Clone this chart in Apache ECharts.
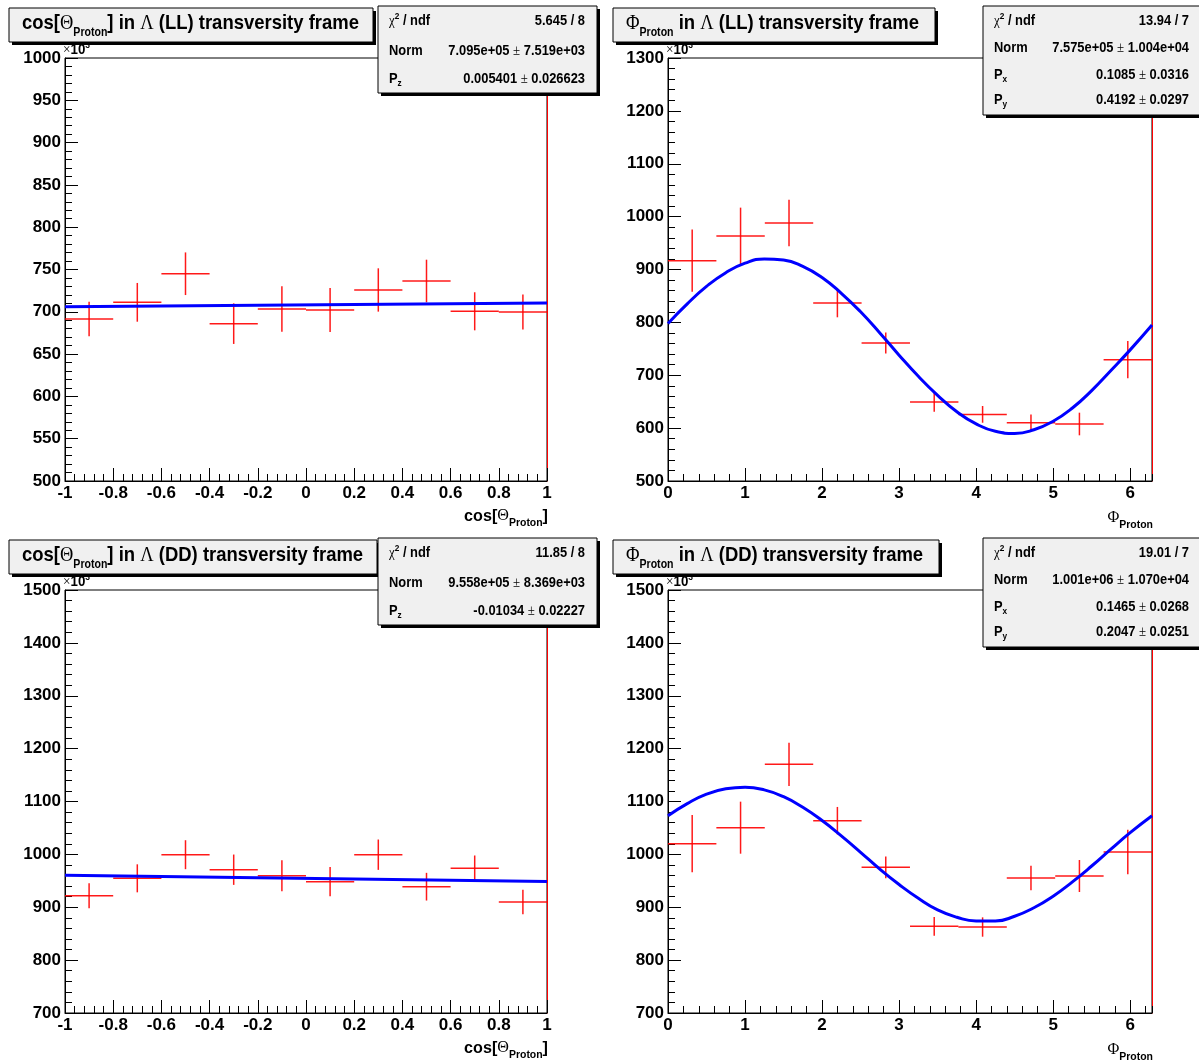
<!DOCTYPE html>
<html>
<head>
<meta charset="utf-8">
<script src="https://cdn.jsdelivr.net/npm/echarts@6/dist/echarts.min.js"></script>
<style>
html,body{margin:0;padding:0;background:#fff;}
#chart{width:1199px;height:1061px;}
</style>
</head>
<body>
<div id="chart"></div>
<script>
// ---------------- DATA ----------------
const cosBinCenters = [-0.9, -0.7, -0.5, -0.3, -0.1, 0.1, 0.3, 0.5, 0.7, 0.9];
const cosBinWidth = 0.2;
const phiBinCenters = [0.314, 0.942, 1.571, 2.199, 2.827, 3.456, 4.084, 4.712, 5.341, 5.969];
const phiBinWidth = 0.6283;

// cos(Theta) LL
const llCosValues = [691.5, 711.2, 745.0, 686.0, 703.3, 702.0, 725.8, 736.4, 700.6, 699.8];
const llCosErrors = [20.3, 22.9, 25.2, 24.0, 26.8, 26.0, 25.6, 25.2, 22.5, 20.7];
const llCosFitX = [-1, 1];
const llCosFitY = [706.0, 710.5];

// Phi LL
const llPhiValues = [916.7, 963.4, 988.0, 836.6, 761.0, 649.4, 626.0, 610.3, 607.8, 729.5];
const llPhiErrors = [59.0, 53.6, 44.0, 27.0, 20.0, 18.3, 15.8, 15.4, 21.4, 35.3];
const phiFitX = [0, 0.25, 0.5, 0.75, 1, 1.25, 1.5, 1.75, 2, 2.25, 2.5, 2.75, 3, 3.25, 3.5, 3.75, 4, 4.25, 4.5, 4.75, 5, 5.25, 5.5, 5.75, 6, 6.2832];
const llPhiFitY = [798, 835, 868, 894, 912, 920, 918, 906, 885, 855, 820, 780, 738, 698, 662, 631, 608, 594, 590, 597, 613, 638, 671, 709, 748, 795];

// cos(Theta) DD
const ddCosValues = [921.8, 954.7, 999.4, 971.0, 959.7, 948.3, 999.4, 938.9, 973.6, 909.9];
const ddCosErrors = [23.6, 26.5, 27.4, 28.7, 29.3, 27.7, 28.7, 26.2, 24.3, 23.0];
const ddCosFitX = [-1, 1];
const ddCosFitY = [960.5, 948.5];

// Phi DD
const ddPhiValues = [1020.2, 1050.5, 1170.3, 1063.7, 975.5, 864.0, 862.6, 955.3, 959.1, 1004.5];
const ddPhiErrors = [54.2, 49.2, 41.0, 26.0, 20.5, 17.7, 18.3, 23.3, 30.3, 41.9];
const ddPhiFitY = [1073, 1096, 1114, 1124, 1127, 1122, 1109, 1089, 1064, 1035, 1004, 972, 943, 917, 895, 881, 874, 874, 883, 899, 921, 948, 978, 1010, 1041, 1073];

// Axis ranges / ticks
const cosXRange = [-1, 1];
const phiXRange = [0, 6.2832];
const llCosYRange = [500, 1000];
const llPhiYRange = [500, 1300];
const ddYRange = [700, 1500];

// Stats-box texts
const llCosStats = [['chi', '5.645 / 8'], ['Norm', '7.095e+05|7.519e+03'], ['Pz', '0.005401|0.026623']];
const llPhiStats = [['chi', '13.94 / 7'], ['Norm', '7.575e+05|1.004e+04'], ['Px', '0.1085|0.0316'], ['Py', '0.4192|0.0297']];
const ddCosStats = [['chi', '11.85 / 8'], ['Norm', '9.558e+05|8.369e+03'], ['Pz', '-0.01034|0.02227']];
const ddPhiStats = [['chi', '19.01 / 7'], ['Norm', '1.001e+06|1.070e+04'], ['Px', '0.1465|0.0268'], ['Py', '0.2047|0.0251']];

// ---------------- STYLE / LAYOUT ----------------
const FONT = "'Liberation Sans', Arial, Helvetica, sans-serif";
const GREEK = "'Liberation Serif', 'DejaVu Serif', serif";
const grids = [
  {left: 65, top: 58, width: 482, height: 423},
  {left: 668, top: 58, width: 484, height: 423},
  {left: 65, top: 590, width: 482, height: 423},
  {left: 668, top: 590, width: 484, height: 423}
];

const chart = echarts.init(document.getElementById('chart'), null, {renderer: 'canvas'});

function fmtLabel(v) {
  if (Math.abs(v - Math.round(v * 10) / 10) > 1e-6) return '';
  return (Math.round(v * 10) / 10).toString();
}

function mainX(gi, range, interval, minorSplit) {
  return {
    type: 'value', gridIndex: gi, min: range[0], max: range[1], interval: interval,
    position: 'bottom',
    axisLine: {show: true, onZero: false, lineStyle: {color: '#000', width: 1}},
    axisTick: {show: true, inside: true, length: 13, lineStyle: {color: '#000', width: 1}},
    minorTick: {show: !!minorSplit, splitNumber: minorSplit || 5, length: 7, lineStyle: {color: '#000', width: 1}},
    splitLine: {show: false},
    axisLabel: {show: true, margin: 4, color: '#000', fontFamily: FONT, fontWeight: 'bold', fontSize: 17,
      showMaxLabel: range[1] === 1, showMinLabel: true,
      formatter: function (v) { return fmtLabel(v); }}
  };
}
function minorX(gi, range, interval) {
  return {
    type: 'value', gridIndex: gi, min: range[0], max: range[1], interval: interval,
    position: 'bottom',
    axisLine: {show: false, onZero: false},
    axisTick: {show: true, inside: true, length: 7, lineStyle: {color: '#000', width: 1}},
    splitLine: {show: false},
    axisLabel: {show: false}
  };
}
function mainY(gi, range, interval) {
  return {
    type: 'value', gridIndex: gi, min: range[0], max: range[1], interval: interval,
    position: 'left',
    axisLine: {show: true, onZero: false, lineStyle: {color: '#000', width: 1}},
    axisTick: {show: true, inside: true, length: 13, lineStyle: {color: '#000', width: 1}},
    minorTick: {show: true, splitNumber: 5, length: 7, lineStyle: {color: '#000', width: 1}},
    splitLine: {show: false},
    axisLabel: {show: true, margin: 4, color: '#000', fontFamily: FONT, fontWeight: 'bold', fontSize: 17,
      formatter: function (v) { return String(Math.round(v)); }}
  };
}
function redRightY(gi, range) {
  return {
    type: 'value', gridIndex: gi, min: range[0], max: range[1], position: 'right',
    axisLine: {show: true, onZero: false, lineStyle: {color: '#ff0000', width: 1}},
    axisTick: {show: false}, axisLabel: {show: false}, splitLine: {show: false}
  };
}

function crossSeries(ax, centers, vals, errs, binW) {
  const halfW = binW / 2;
  return {
    type: 'custom', xAxisIndex: ax, yAxisIndex: ax, z: 3,
    data: centers.map((c, i) => [c, vals[i], errs[i]]),
    encode: {x: 0, y: 1},
    renderItem: function (params, api) {
      const x = api.value(0), y = api.value(1), e = api.value(2);
      const l = api.coord([x - halfW, y]), r = api.coord([x + halfW, y]);
      const t = api.coord([x, y + e]), b = api.coord([x, y - e]);
      const st = {stroke: '#ff0000', lineWidth: 1.5, opacity: 0.9};
      return {type: 'group', children: [
        {type: 'line', shape: {x1: l[0], y1: l[1], x2: r[0], y2: r[1]}, style: st},
        {type: 'line', shape: {x1: t[0], y1: t[1], x2: b[0], y2: b[1]}, style: st}
      ]};
    }
  };
}
function fitSeries(ax, xs, ys) {
  return {
    type: 'line', xAxisIndex: ax, yAxisIndex: ax, z: 4,
    data: xs.map((x, i) => [x, ys[i]]),
    smooth: true, showSymbol: false, symbol: 'none',
    lineStyle: {color: '#0000ff', width: 3}, itemStyle: {color: '#0000ff'},
    silent: true, animation: false
  };
}

// ---------- graphic helpers ----------
const RICH = {
  b: {fontFamily: FONT, fontWeight: 'bold', fontSize: 14, fill: '#000', color: '#000', lineHeight: 16},
  g: {fontFamily: GREEK, fontWeight: 'normal', fontSize: 14, fill: '#000', color: '#000', lineHeight: 16},
  sup: {fontFamily: FONT, fontWeight: 'bold', fontSize: 9, fill: '#000', color: '#000', lineHeight: 10, padding: [0, 0, 9, 0]},
  sub: {fontFamily: FONT, fontWeight: 'bold', fontSize: 9, fill: '#000', color: '#000', lineHeight: 10, padding: [9, 0, 0, 0]},
  T: {fontFamily: FONT, fontWeight: 'bold', fontSize: 21, fill: '#000', color: '#000', lineHeight: 24},
  TG: {fontFamily: GREEK, fontWeight: 'normal', fontSize: 21, fill: '#000', color: '#000', lineHeight: 24},
  TS: {fontFamily: FONT, fontWeight: 'bold', fontSize: 12, fill: '#000', color: '#000', lineHeight: 14, padding: [20, 0, 0, 0]},
  A: {fontFamily: FONT, fontWeight: 'bold', fontSize: 17, fill: '#000', color: '#000', lineHeight: 20},
  AG: {fontFamily: GREEK, fontWeight: 'normal', fontSize: 17, fill: '#000', color: '#000', lineHeight: 20},
  AS: {fontFamily: FONT, fontWeight: 'bold', fontSize: 11, fill: '#000', color: '#000', lineHeight: 12, padding: [14, 0, 0, 0]},
  X: {fontFamily: FONT, fontWeight: 'bold', fontSize: 14, fill: '#000', color: '#000', lineHeight: 16},
  XG: {fontFamily: GREEK, fontWeight: 'normal', fontSize: 14, fill: '#000', color: '#000', lineHeight: 16},
  XS: {fontFamily: FONT, fontWeight: 'bold', fontSize: 9, fill: '#000', color: '#000', lineHeight: 10, padding: [0, 0, 8, 0]}
};
function txt(x, y, text, align, vAlign, sx) {
  return {
    type: 'text', x: x, y: y, scaleX: sx || 1, z: 102, zlevel: 0, silent: true,
    style: {x: 0, y: 0, text: text, rich: RICH, align: align, textAlign: align,
      verticalAlign: vAlign, textVerticalAlign: vAlign, fill: '#000',
      fontFamily: FONT, fontWeight: 'bold', fontSize: 14}
  };
}
function boxWithShadow(x, y, w, h) {
  return [
    {type: 'rect', z: 100, silent: true, shape: {x: x + 3, y: y + 3, width: w, height: h}, style: {fill: '#000', stroke: null}},
    {type: 'rect', z: 101, silent: true, shape: {x: x, y: y, width: w, height: h}, style: {fill: '#f0f0f0', stroke: '#000', lineWidth: 1}}
  ];
}
function statsBox(x, y, w, h, rows, rowYs, lx, rx) {
  const els = boxWithShadow(x, y, w, h);
  rows.forEach((r, i) => {
    let left;
    if (r[0] === 'chi') left = '{g|χ}{sup|2}{b| / ndf}';
    else if (r[0] === 'Norm') left = '{b|Norm}';
    else left = '{b|P}{sub|' + r[0].charAt(1) + '}';
    let right;
    if (r[1].indexOf('|') >= 0) {
      const p = r[1].split('|');
      right = '{b|' + p[0] + ' }{g|±}{b| ' + p[1] + '}';
    } else right = '{b|' + r[1] + '}';
    els.push(txt(lx, rowYs[i], left, 'left', 'middle', 0.92));
    els.push(txt(rx, rowYs[i], right, 'right', 'middle', 0.92));
  });
  return els;
}
function titleBox(x, y, w, h, text) {
  const els = boxWithShadow(x, y, w, h);
  els.push(txt(x + 13, y + 15, text, 'left', 'middle', 0.88));
  return els;
}

const graphics = [].concat(
  titleBox(9, 8, 364, 34, '{T|cos[}{TG|Θ}{TS|Proton}{T|] in }{TG|Λ}{T| (LL) transversity frame}'),
  titleBox(613, 8, 322, 34, '{TG|Φ}{TS|Proton}{T| in }{TG|Λ}{T| (LL) transversity frame}'),
  titleBox(9, 540, 368, 34, '{T|cos[}{TG|Θ}{TS|Proton}{T|] in }{TG|Λ}{T| (DD) transversity frame}'),
  titleBox(613, 540, 326, 34, '{TG|Φ}{TS|Proton}{T| in }{TG|Λ}{T| (DD) transversity frame}'),
  statsBox(378, 6, 219, 87, llCosStats, [21, 51, 79], 389, 585),
  statsBox(983, 6, 230, 109, llPhiStats, [21, 48, 75, 100], 994, 1189),
  statsBox(378, 538, 219, 87, ddCosStats, [553, 583, 611], 389, 585),
  statsBox(983, 538, 230, 109, ddPhiStats, [553, 580, 607, 632], 994, 1189),
  [
    txt(63, 50, '{XG|×}{X|10}{XS|3}', 'left', 'middle', 0.95),
    txt(666, 50, '{XG|×}{X|10}{XS|3}', 'left', 'middle', 0.95),
    txt(63, 582, '{XG|×}{X|10}{XS|3}', 'left', 'middle', 0.95),
    txt(666, 582, '{XG|×}{X|10}{XS|3}', 'left', 'middle', 0.95),
    txt(548, 516, '{A|cos[}{AG|Θ}{AS|Proton}{A|]}', 'right', 'middle', 0.95),
    txt(1153, 518, '{AG|Φ}{AS|Proton}', 'right', 'middle', 0.95),
    txt(548, 1048, '{A|cos[}{AG|Θ}{AS|Proton}{A|]}', 'right', 'middle', 0.95),
    txt(1153, 1050, '{AG|Φ}{AS|Proton}', 'right', 'middle', 0.95)
  ]
);

const option = {
  animation: false,
  backgroundColor: '#ffffff',
  grid: grids.map(g => Object.assign({show: true, borderColor: '#000', borderWidth: 1, backgroundColor: 'transparent', containLabel: false}, g)),
  xAxis: [
    mainX(0, cosXRange, 0.2, 5),
    mainX(1, phiXRange, 1, 0),
    mainX(2, cosXRange, 0.2, 5),
    mainX(3, phiXRange, 1, 0),
    minorX(1, phiXRange, 0.2),
    minorX(3, phiXRange, 0.2)
  ],
  yAxis: [
    mainY(0, llCosYRange, 50),
    mainY(1, llPhiYRange, 100),
    mainY(2, ddYRange, 100),
    mainY(3, ddYRange, 100),
    redRightY(0, llCosYRange),
    redRightY(1, llPhiYRange),
    redRightY(2, ddYRange),
    redRightY(3, ddYRange)
  ],
  series: [
    crossSeries(0, cosBinCenters, llCosValues, llCosErrors, cosBinWidth),
    fitSeries(0, llCosFitX, llCosFitY),
    crossSeries(1, phiBinCenters, llPhiValues, llPhiErrors, phiBinWidth),
    fitSeries(1, phiFitX, llPhiFitY),
    crossSeries(2, cosBinCenters, ddCosValues, ddCosErrors, cosBinWidth),
    fitSeries(2, ddCosFitX, ddCosFitY),
    crossSeries(3, phiBinCenters, ddPhiValues, ddPhiErrors, phiBinWidth),
    fitSeries(3, phiFitX, ddPhiFitY)
  ],
  graphic: {elements: graphics}
};
chart.setOption(option);
</script>
</body>
</html>
